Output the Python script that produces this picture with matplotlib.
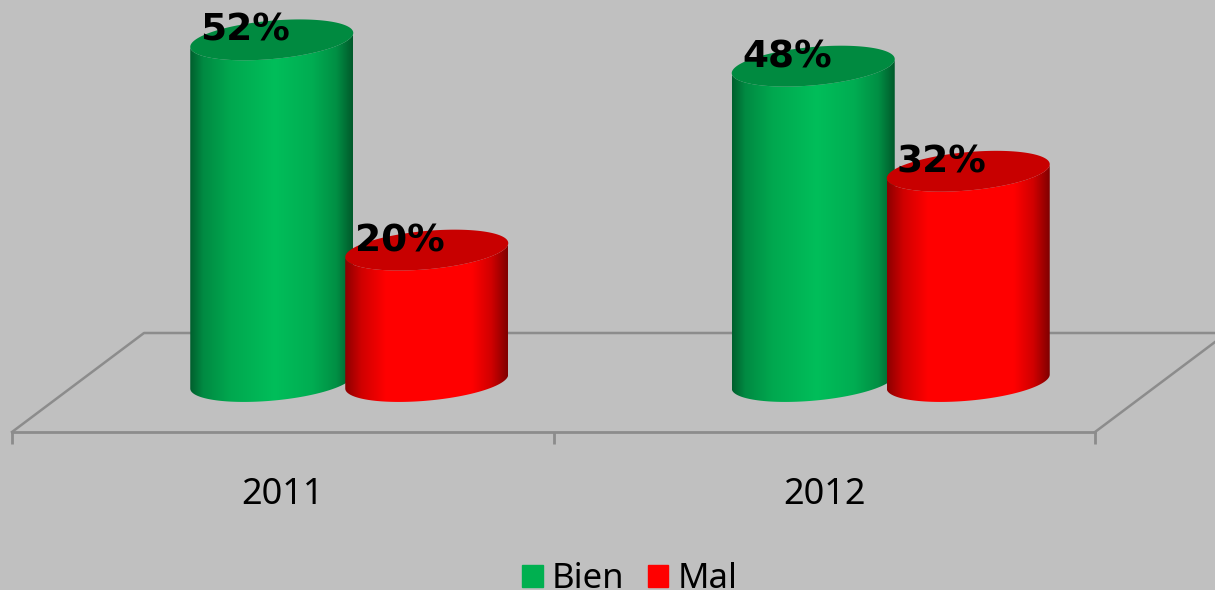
import numpy as np
import matplotlib
matplotlib.use("Agg")
import matplotlib.pyplot as plt
from matplotlib.colors import LinearSegmentedColormap
from matplotlib.lines import Line2D
from matplotlib.patches import Patch, Polygon
from matplotlib.transforms import Affine2D

years = ["2011", "2012"]
bien = [52, 48]
mal = [20, 32]
series_names = ["Bien", "Mal"]

W, H = 1215, 590
BG = "#c0c0c0"
LINE = "#8c8c8c"

plt.rcParams["font.family"] = ["Noto Sans", "DejaVu Sans"]

fig = plt.figure(figsize=(W / 100, H / 100), dpi=100, facecolor=BG)
# axes spans the front floor edge: x 12..1095 px, y 0..432 px
ax = fig.add_axes([12 / W, (H - 432) / H, (1095 - 12) / W, 432 / H])
ax.patch.set_visible(False)

px_per_cat = 541.5
px_per_pct = 6.57
zero_px = 381.5
half_w = 81.5 / px_per_cat
ell_b = 19.2 / px_per_pct
ell_s = 7 / px_per_pct

green_cm = LinearSegmentedColormap.from_list("g", [
    (0, "#005f2e"), (0.08, "#008a42"), (0.25, "#00a84f"), (0.52, "#00be5a"),
    (0.75, "#00ad52"), (0.9, "#008f44"), (1, "#005a2b")])
red_cm = LinearSegmentedColormap.from_list("r", [
    (0, "#8c0000"), (0.1, "#d00000"), (0.25, "#ff0000"), (0.78, "#ff0000"),
    (0.9, "#d00000"), (1, "#800000")])
grad = np.linspace(0, 1, 256).reshape(1, -1)


def cylinder(cx, value, cmap, top_color, label):
    t = np.linspace(0, 2 * np.pi, 200)
    ex = cx + half_w * np.cos(t)
    ey = ell_b * np.sin(t) + ell_s * np.cos(t)
    # lower half of the rim, from the right end round to the left end
    low = np.linspace(0, -np.pi, 100)
    lx = cx + half_w * np.cos(low)
    ly = ell_b * np.sin(low) + ell_s * np.cos(low)
    body = np.column_stack([
        np.r_[lx, lx[::-1]],
        np.r_[ly, ly[::-1] + value],
    ])
    im = ax.imshow(grad, cmap=cmap, aspect="auto", interpolation="bilinear",
                   extent=(cx - half_w, cx + half_w, -10, value + 10), zorder=3)
    clip = Polygon(body, closed=True, transform=ax.transData)
    im.set_clip_path(clip)
    ax.fill(ex, ey + value, color=top_color, lw=0, zorder=3)
    ax.text(cx - 26.5 / px_per_cat, value - 0.15, label, ha="center", va="baseline",
            fontsize=27, fontweight="bold", color="black", zorder=5,
            family="DejaVu Sans")


for i in range(len(years)):
    # draw order keeps red in front of green
    cylinder(i - 11 / px_per_cat, bien[i], green_cm, "#008a40", f"{bien[i]}%")
    cylinder(i + 144 / px_per_cat, mal[i], red_cm, "#c80000", f"{mal[i]}%")

ax.set_xlim(-0.5, 1.5)
ax.set_ylim(-(432 - zero_px) / px_per_pct, zero_px / px_per_pct)

for s in ["top", "left", "right"]:
    ax.spines[s].set_visible(False)
ax.spines["bottom"].set_color(LINE)
ax.spines["bottom"].set_linewidth(2)
ax.set_yticks([])
ax.set_xticks([-0.5, 0.5, 1.5])
ax.set_xticklabels([])
ax.tick_params(axis="x", which="major", length=8.5, width=2, color=LINE)
ax.set_xticks([0, 1], minor=True)
ax.set_xticklabels(years, minor=True, fontsize=26, color="black")
ax.tick_params(axis="x", which="minor", length=0, pad=32.5)

# floor drawn behind the axes, in figure pixels
px = Affine2D().scale(1, -1).translate(0, H)
floor_x = [1215, 144, 12]
floor_y = [333, 333, 432]
fig.add_artist(Line2D(floor_x, floor_y, transform=px, color=LINE, lw=1.8, zorder=-1))
fig.add_artist(Line2D([1095, 1215], [432, 342], transform=px, color=LINE, lw=1.8, zorder=-1))

handles = [Patch(color="#00b050"), Patch(color="#ff0000")]
fig.legend(handles, series_names, loc="lower center", bbox_to_anchor=(629.5 / W, -6 / H),
           ncol=2, frameon=False, fontsize=25, handlelength=0.6, handleheight=0.6,
           handletextpad=0.25, columnspacing=0.68, borderpad=0, borderaxespad=0)

fig.savefig("out.png", dpi=100, facecolor=BG)
